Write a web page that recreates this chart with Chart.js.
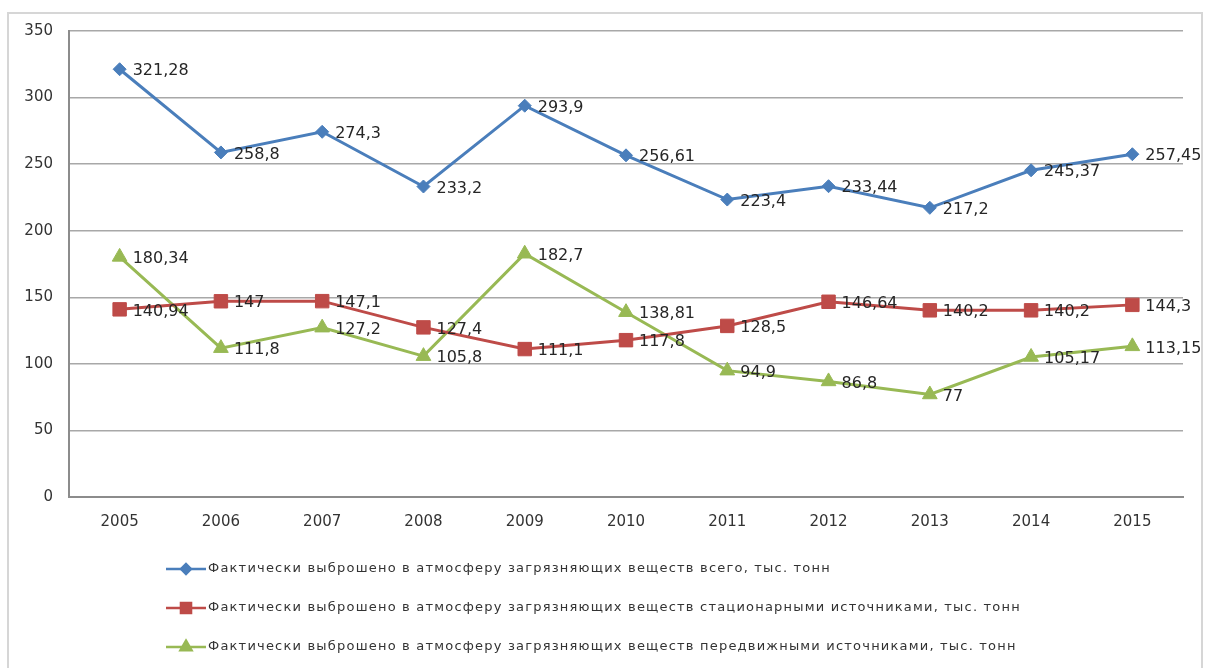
<!DOCTYPE html>
<html>
<head>
<meta charset="utf-8">
<script src="https://cdn.jsdelivr.net/npm/chart.js@4/dist/chart.umd.min.js"></script>
<style>
  body { margin: 0; background: #fff; }
  #wrap { position: relative; width: 1214px; height: 668px; }
  #frame { position: absolute; left: 7px; top: 12px; width: 1196px; height: 670px;
           border: 2px solid #d6d6d6; box-sizing: border-box; pointer-events: none; }
  canvas { position: absolute; left: 0; top: 0; }
</style>
</head>
<body>
<div id="wrap">
  <canvas id="emissions" width="1214" height="668"></canvas>
  <div id="frame"></div>
</div>
<script>
window.addEventListener('load', function() {

const years = ['2005', '2006', '2007', '2008', '2009', '2010', '2011', '2012', '2013', '2014', '2015'];

const totalVals = [321.28, 258.8, 274.3, 233.2, 293.9, 256.61, 223.4, 233.44, 217.2, 245.37, 257.45];
const stationaryVals = [140.94, 147, 147.1, 127.4, 111.1, 117.8, 128.5, 146.64, 140.2, 140.2, 144.3];
const mobileVals = [180.34, 111.8, 127.2, 105.8, 182.7, 138.81, 94.9, 86.8, 77, 105.17, 113.15];

const seriesNames = [
    'Фактически выброшено в атмосферу загрязняющих веществ всего, тыс. тонн',
    'Фактически выброшено в атмосферу загрязняющих веществ стационарными источниками, тыс. тонн',
    'Фактически выброшено в атмосферу загрязняющих веществ передвижными источниками, тыс. тонн'
];

const yTicks = [0, 50, 100, 150, 200, 250, 300, 350];

const blue = '#4a7ebb';
const red = '#be4b48';
const green = '#98b954';

function fmt(v) {
    return String(v).replace('.', ',');
}

// value labels to the right of every point
const pointLabels = {
    id: 'pointLabels',
    afterDatasetsDraw(chart) {
        const ctx = chart.ctx;
        ctx.save();
        ctx.font = '16px "DejaVu Sans"';
        ctx.fillStyle = '#262626';
        ctx.textBaseline = 'middle';
        ctx.textAlign = 'left';
        chart.data.datasets.forEach(function(ds, i) {
            chart.getDatasetMeta(i).data.forEach(function(pt, j) {
                ctx.fillText(fmt(ds.data[j]), pt.x + 13, pt.y + 2);
            });
        });
        ctx.restore();
    }
};

// legend under the axis, one series per row, line + marker sample
const rowLegend = {
    id: 'rowLegend',
    afterDraw(chart) {
        const ctx = chart.ctx;
        const rows = [569, 608, 647];
        ctx.save();
        chart.data.datasets.forEach(function(ds, i) {
            const y = rows[i];
            ctx.strokeStyle = ds.borderColor;
            ctx.lineWidth = 2.5;
            ctx.beginPath();
            ctx.moveTo(166, y);
            ctx.lineTo(206, y);
            ctx.stroke();
            Chart.helpers.drawPoint(ctx, {
                pointStyle: ds.pointStyle,
                radius: ds.pointRadius * 0.75,
                borderWidth: 1
            }, 186, y);
            ctx.fillStyle = ds.borderColor;
            ctx.fill();
            ctx.font = '13px "DejaVu Sans"';
            ctx.letterSpacing = '1.2px';
            ctx.fillStyle = '#333';
            ctx.textBaseline = 'middle';
            ctx.fillText(ds.label, 208, y);
            ctx.letterSpacing = '0px';
        });
        ctx.restore();
    }
};

function series(label, data, color, style, radius) {
    return {
        label: label,
        data: data,
        borderColor: color,
        backgroundColor: color,
        borderWidth: 3,
        pointStyle: style,
        pointRadius: radius,
        pointHoverRadius: radius,
        pointBorderWidth: 1,
        tension: 0,
        fill: false
    };
}

const ctx = document.getElementById('emissions').getContext('2d');

new Chart(ctx, {
    type: 'line',
    data: {
        labels: years,
        datasets: [
            series(seriesNames[0], totalVals, blue, 'rectRot', 6.5),
            series(seriesNames[1], stationaryVals, red, 'rect', 9.5),
            series(seriesNames[2], mobileVals, green, 'triangle', 8.5)
        ]
    },
    options: {
        responsive: false,
        animation: false,
        layout: { padding: { top: 31, right: 31, left: 0, bottom: 0 } },
        plugins: {
            legend: { display: false },
            tooltip: { enabled: false }
        },
        scales: {
            x: {
                offset: true,
                grid: { display: false, drawTicks: false },
                border: { display: true, color: '#8c8c8c', width: 2 },
                ticks: {
                    padding: 16,
                    color: '#333',
                    font: { family: 'DejaVu Sans', size: 15 }
                },
                afterFit: function(scale) { scale.height = 171; }
            },
            y: {
                min: 0,
                max: 350,
                afterBuildTicks: function(scale) {
                    scale.ticks = yTicks.map(v => ({ value: v }));
                },
                grid: { color: '#a8a8a8', lineWidth: 1.5, drawTicks: false },
                border: { display: true, color: '#8c8c8c', width: 2 },
                ticks: {
                    padding: 16,
                    color: '#333',
                    font: { family: 'DejaVu Sans', size: 15 }
                },
                afterFit: function(scale) { scale.width = 69; }
            }
        }
    },
    plugins: [pointLabels, rowLegend]
});

});
</script>
</body>
</html>
